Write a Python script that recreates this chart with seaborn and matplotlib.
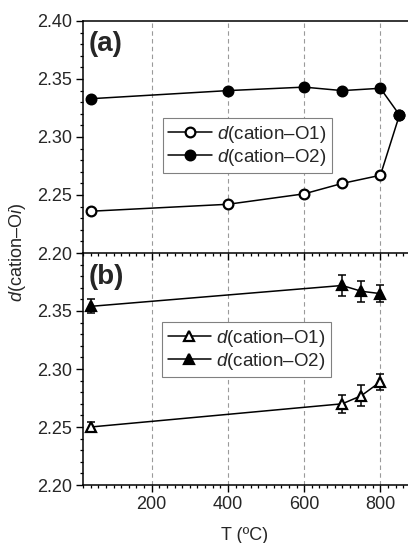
import matplotlib
matplotlib.use('Agg')
import matplotlib.pyplot as plt
import matplotlib.ticker as mticker
import seaborn as sns

# panel (a): distances vs temperature
temp_a = [40, 400, 600, 700, 800, 850]
o1_a = [2.236, 2.242, 2.251, 2.260, 2.267, 2.319]
o2_a = [2.333, 2.340, 2.343, 2.340, 2.342, 2.319]

# panel (b): distances with error bars
temp_b = [40, 700, 750, 800]
o1_b = [2.250, 2.270, 2.277, 2.289]
o1_b_err = [0.004, 0.008, 0.009, 0.007]
o2_b = [2.354, 2.372, 2.367, 2.365]
o2_b_err = [0.006, 0.009, 0.009, 0.007]

label_o1 = r'$\mathit{d}$(cation–O1)'
label_o2 = r'$\mathit{d}$(cation–O2)'
grid_x = [200, 400, 600, 800]

sns.set_style('ticks')
plt.rcParams['font.family'] = ['Liberation Sans', 'DejaVu Sans']
plt.rcParams['mathtext.fontset'] = 'custom'
plt.rcParams['mathtext.rm'] = 'Liberation Sans'
plt.rcParams['mathtext.it'] = 'Liberation Sans:italic'

W, H = 408, 543
fig = plt.figure(figsize=(W / 100, H / 100), dpi=100)
ax_b = fig.add_axes([83 / W, 1 - 485 / H, 326 / W, 232 / H])
ax_a = fig.add_axes([83 / W, 1 - 253 / H, 326 / W, 232 / H])
ax_b.patch.set_alpha(0)
ax_a.patch.set_alpha(0)

line_kw = dict(color='black', linewidth=1.1, markersize=7,
               markeredgecolor='black', markeredgewidth=1.6, sort=False)

sns.lineplot(x=temp_a, y=o1_a, ax=ax_a, marker='o', markerfacecolor='white',
             label=label_o1, **line_kw)
sns.lineplot(x=temp_a, y=o2_a, ax=ax_a, marker='o', markerfacecolor='black',
             label=label_o2, **line_kw)

ax_b.errorbar(temp_b, o1_b, yerr=o1_b_err, fmt='none', ecolor='black',
              elinewidth=1.1, capsize=3, capthick=1.1, zorder=1)
ax_b.errorbar(temp_b, o2_b, yerr=o2_b_err, fmt='none', ecolor='black',
              elinewidth=1.1, capsize=3, capthick=1.1, zorder=1)
sns.lineplot(x=temp_b, y=o1_b, ax=ax_b, marker='^', markerfacecolor='white',
             label=label_o1, **line_kw)
sns.lineplot(x=temp_b, y=o2_b, ax=ax_b, marker='^', markerfacecolor='black',
             label=label_o2, **line_kw)

for ax in (ax_a, ax_b):
    ax.set_xlim(20, 875)
    ax.set_ylim(2.20, 2.40)
    ax.xaxis.set_major_locator(mticker.FixedLocator(grid_x))
    ax.xaxis.set_minor_locator(mticker.MultipleLocator(20))
    ax.yaxis.set_major_locator(mticker.MultipleLocator(0.05))
    ax.yaxis.set_minor_locator(mticker.MultipleLocator(0.01))
    ax.yaxis.set_major_formatter(mticker.FormatStrFormatter('%.2f'))
    ax.tick_params(which='major', direction='out', length=5, width=1.0,
                   labelsize=13, pad=3, color='black')
    ax.tick_params(which='minor', direction='out', length=2.5, width=0.9,
                   color='black')
    ax.spines['right'].set_visible(False)
    for s in ('left', 'bottom', 'top'):
        ax.spines[s].set_linewidth(1.1)
        ax.spines[s].set_color('black')
    for xv in grid_x:
        ax.axvline(xv, color='#9a9a9a', linestyle=(0, (4, 3)), linewidth=0.8, zorder=0)
    ax.set_xlabel('')
    ax.set_ylabel('')

ax_a.tick_params(axis='x', labelbottom=False)
ax_b.set_yticks([2.20, 2.25, 2.30, 2.35])
ax_b.spines['top'].set_visible(False)

leg_kw = dict(loc='upper left', borderaxespad=0, frameon=True, fancybox=False,
              edgecolor='#808080', fontsize=13.5, handlelength=2.3,
              handletextpad=0.3, labelspacing=0.12, borderpad=0.3, framealpha=1)
leg = ax_a.legend(bbox_to_anchor=(0.245, 0.582), **leg_kw)
leg.get_frame().set_linewidth(0.8)
leg = ax_b.legend(bbox_to_anchor=(0.242, 0.703), **leg_kw)
leg.get_frame().set_linewidth(0.8)

fig.text(89 / W, 1 - 44 / H, '(a)', fontsize=20, fontweight='bold', va='center', ha='left')
fig.text(89 / W, 1 - 277 / H, '(b)', fontsize=20, fontweight='bold', va='center', ha='left')
fig.text(18 / W, 1 - 253 / H, r'$\mathit{d}$(cation–O$\mathit{i}$)', rotation=90,
         fontsize=13, va='center', ha='center')
fig.text(245 / W, 1 - 535 / H, 'T (ºC)', fontsize=13, va='center', ha='center')

fig.savefig('out.png', dpi=100, facecolor='white')
